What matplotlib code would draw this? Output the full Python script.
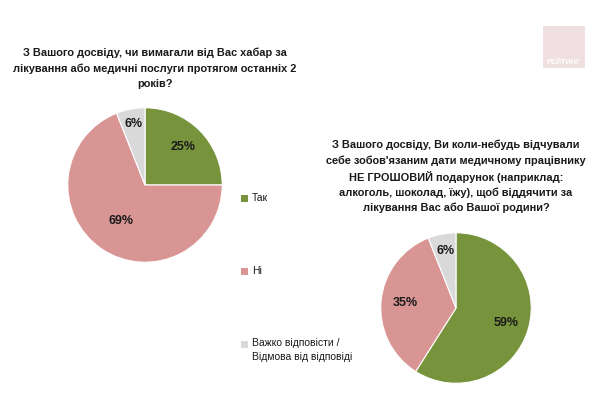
import numpy as np
import matplotlib
matplotlib.use("Agg")
import matplotlib.pyplot as plt
from matplotlib.patches import Rectangle

# Дані
categories = ["Так", "Ні", "Важко відповісти /\nВідмова від відповіді"]
bribe_values = [25, 69, 6]
gift_values = [59, 35, 6]
colors = ["#77933c", "#d99594", "#d9d9d9"]

title_1 = ("З Вашого досвіду, чи вимагали від Вас хабар за\n"
           "лікування або медичні послуги протягом останніх 2\n"
           "років?")
title_2 = ("З Вашого досвіду, Ви коли-небудь відчували\n"
           "себе зобов'язаним дати медичному працівнику\n"
           "НЕ ГРОШОВИЙ подарунок (наприклад:\n"
           "алкоголь, шоколад, їжу), щоб віддячити за\n"
           "лікування Вас або Вашої родини?")

plt.rcParams["font.family"] = ["Liberation Sans", "DejaVu Sans"]

fig = plt.figure(figsize=(6.0, 4.07), dpi=100)
W, H = 600, 407


def px_axes(x0, y_top, w, h):
    return fig.add_axes([x0 / W, 1 - (y_top + h) / H, w / W, h / H])


def draw_pie(ax, values, radii):
    wedges, _ = ax.pie(values, colors=colors, startangle=90, counterclock=False,
                       wedgeprops=dict(edgecolor="white", linewidth=0.8))
    for w, v, r in zip(wedges, values, radii):
        ang = np.deg2rad((w.theta1 + w.theta2) / 2)
        ax.text(r * np.cos(ang), r * np.sin(ang), f"{v}%", ha="center", va="center",
                fontsize=9, fontweight="bold", color="#1a1a1a")
    ax.set_xlim(-1.01, 1.01)
    ax.set_ylim(-1.01, 1.01)
    ax.axis("off")


ax1 = px_axes(67, 107, 156, 156)
draw_pie(ax1, bribe_values, [0.70, 0.56, 0.81])

ax2 = px_axes(380, 232, 152, 152)
draw_pie(ax2, gift_values, [0.70, 0.67, 0.77])

# Заголовки
fig.text(155 / W, 1 - 48 / H, title_1, ha="center", va="top", fontsize=7.9,
         fontweight="bold", linespacing=1.6, color="#1a1a1a")
fig.text(456 / W, 1 - 140 / H, title_2, ha="center", va="top", fontsize=7.9,
         fontweight="bold", linespacing=1.55, color="#1a1a1a")

# Легенда
legend_y = [198, 271, 344]
for cat, col, y in zip(categories, colors, legend_y):
    fig.patches.append(Rectangle((241 / W, 1 - (y + 3.5) / H), 7 / W, 7 / H,
                                 transform=fig.transFigure, facecolor=col,
                                 edgecolor="none"))
    fig.text(252 / W, 1 - (y - 5.5) / H, cat, ha="left", va="top", fontsize=7.5,
             linespacing=1.45, color="#1a1a1a")

# Логотип
fig.patches.append(Rectangle((543 / W, 1 - 68 / H), 42 / W, 42 / H,
                             transform=fig.transFigure, facecolor="#efdfe0",
                             edgecolor="none"))
fig.text(564 / W, 1 - 62 / H, "РЕЙТИНГ", ha="center", va="center", fontsize=5.2,
         fontweight="bold", color="white")

fig.savefig("out.png", dpi=100, facecolor="white")
